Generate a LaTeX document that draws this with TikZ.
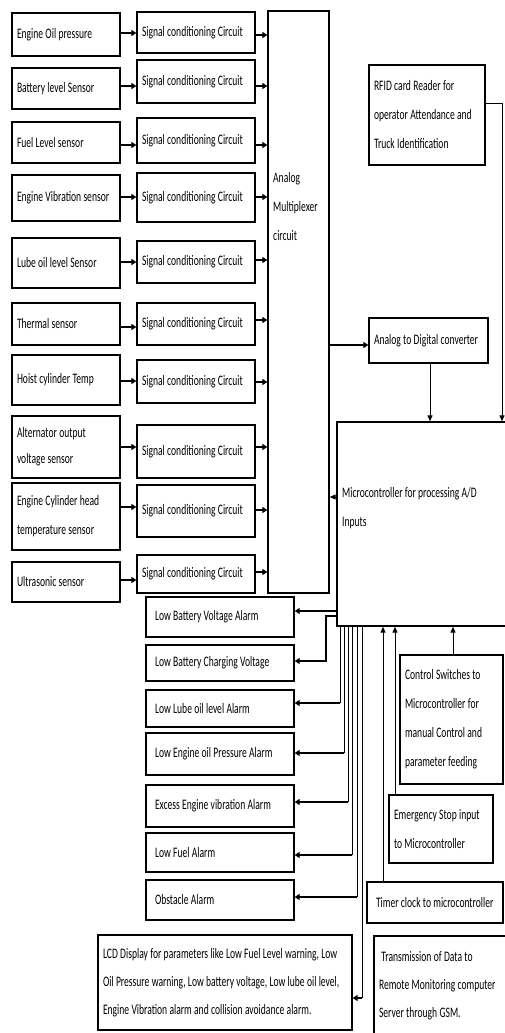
\documentclass[tikz,border=0pt]{standalone}
\usepackage{fontspec}
\setmainfont{Carlito}[FakeStretch=0.66]
\usetikzlibrary{arrows.meta}
\newcommand\bx[7][]{%
  \pgfmathsetmacro\bxw{#5-#3}\pgfmathsetmacro\bxh{#6-#4}\pgfmathsetmacro\bxt{#5-#3-10}%
  \node[boxst, minimum width=\bxw pt, minimum height=\bxh pt, text width=\bxt pt, #1] (#2) at ({(#3+#5)/2},{(#4+#6)/2}) {\spaceskip=0.16em\relax #7};}
\begin{document}
\begin{tikzpicture}[x=1pt,y=-1pt,
  boxst/.style={draw, line width=1.3pt, rectangle, inner xsep=5pt, inner ysep=2pt, align=left, font=\fontsize{14.5}{29}\selectfont},
  alm/.style={inner xsep=8pt, text width=130pt},
  lbl/.style={anchor=west, align=left, inner sep=0pt, font=\fontsize{14.5}{29}\selectfont},
  arr/.style={-{Triangle[length=5pt,width=6pt]}, line width=1.8pt},
  tarr/.style={-{Triangle[length=6pt,width=5pt]}, line width=1pt},
  wire/.style={line width=1pt}]
\useasboundingbox (0,0) rectangle (505,1033);
% sensors
\bx{s1}{12}{13}{120}{56}{Engine Oil pressure}
\bx{s2}{12}{68}{120}{109}{Battery level Sensor}
\bx{s3}{12}{122}{120}{163}{Fuel Level sensor}
\bx{s4}{12}{175}{120}{221}{Engine Vibration sensor}
\bx{s5}{12}{238}{120}{288}{Lube oil level Sensor}
\bx{s6}{12}{303}{120}{345}{Thermal sensor}
\bx{s7}{12}{355}{120}{405}{Hoist cylinder Temp}
\bx[font=\fontsize{14.5}{26}\selectfont]{s8}{12}{416}{120}{478}{Alternator output\\voltage sensor}
\bx{s9}{12}{483}{120}{550}{Engine Cylinder head\\temperature sensor}
\bx{s10}{12}{562}{120}{602}{Ultrasonic sensor}
% signal conditioning
\bx{c1}{137}{12}{255}{53}{Signal conditioning Circuit}
\bx{c2}{137}{60}{255}{103}{Signal conditioning Circuit}
\bx{c3}{137}{118}{255}{163}{Signal conditioning Circuit}
\bx{c4}{137}{173}{255}{222}{Signal conditioning Circuit}
\bx{c5}{137}{241}{255}{283}{Signal conditioning Circuit}
\bx{c6}{137}{303}{255}{345}{Signal conditioning Circuit}
\bx{c7}{137}{360}{255}{403}{Signal conditioning Circuit}
\bx{c8}{137}{425}{255}{478}{Signal conditioning Circuit}
\bx{c9}{137}{485}{255}{537}{Signal conditioning Circuit}
\bx{c10}{137}{555}{255}{593}{Signal conditioning Circuit}
% mux
\bx{mux}{268}{11}{329}{593}{}
\node[lbl] (muxl) at (273,207) {Analog\\Multiplexer\\circuit};
% right column
\bx{rfid}{369}{65}{485}{165}{RFID card Reader for\\operator Attendance and\\Truck Identification}
\bx{adc}{369}{318}{488}{363}{Analog to Digital converter}
\bx{mcu}{337}{422}{510}{626}{}
\node[lbl] (mcul) at (342,508) {Microcontroller for processing A/D\\Inputs};
% alarms
\bx[alm]{a1}{146}{597}{294}{637}{Low Battery Voltage Alarm}
\bx[alm]{a2}{146}{645}{294}{681}{Low Battery Charging Voltage}
\bx[alm]{a3}{146}{690}{294}{727}{Low Lube oil level Alarm}
\bx[alm]{a4}{146}{733}{294}{775}{Low Engine oil Pressure Alarm}
\bx[alm]{a5}{146}{785}{294}{827}{Excess Engine vibration Alarm}
\bx[alm]{a6}{146}{833}{294}{872}{Low Fuel Alarm}
\bx[alm]{a7}{146}{880}{294}{920}{Obstacle Alarm}
\bx[text width=250pt, inner xsep=2pt, font=\fontsize{14.5}{28}\selectfont]{lcd}{98}{935}{352}{1030}{\hspace*{3pt}LCD Display for parameters like Low Fuel Level warning, Low\\\hspace*{3pt}Oil Pressure warning, Low battery voltage, Low lube oil level,\\\hspace*{3pt}Engine Vibration alarm and collision avoidance alarm.}
% inputs
\bx{ctl}{400}{655}{503}{784}{Control Switches to\\Microcontroller for\\manual Control and\\parameter feeding}
\bx{emg}{389}{795}{493}{863}{Emergency Stop input\\to Microcontroller}
\bx[inner xsep=9pt, text width=118pt]{tmr}{367}{882}{503}{923}{Timer clock to microcontroller}
\bx[font=\fontsize{14.5}{28}\selectfont]{gsm}{374}{936}{512}{1035}{\ Transmission of Data to\\Remote Monitoring computer\\Server through GSM.}
% connectors
\foreach \i/\y in {1/33,2/86,3/145,4/197,5/262,6/327,7/381,8/447,9/507,10/580}
  \draw[arr] (s\i.east |- 0,\y) -- (c\i.west |- 0,\y);
\foreach \i/\y in {1/35,2/86,3/145,4/197,5/260,6/320,7/382,8/447,9/510,10/572}
  \draw[arr] (c\i.east |- 0,\y) -- (mux.west |- 0,\y);
\draw[arr] (mux.east |- 0,345) -- (adc.west |- 0,345);
\draw[tarr] (adc.south -| 430,0) -- (mcu.north -| 430,0);
\draw[tarr] (rfid.east |- 0,103) -| (mcu.north -| 502,0);
\draw[tarr] (mcu.west |- 0,497) -- (mux.east |- 0,497);
\draw[arr] (mcu.west |- 0,611) -- (a1.east |- 0,611);
\draw[arr] (mcu.west |- 0,616) -- ++(-10,0) |- (a2.east |- 0,661);
\foreach \i/\x/\y in {3/340/703,4/344/753,5/348/802,6/352/855,7/357/897}{
  \coordinate (k\i) at (\x,\y);
  \draw[wire] (mcu.south -| k\i) -- (k\i);
  \draw[arr] (k\i) -- (a\i.east |- k\i);
}
\coordinate (k8) at (362,998);
\draw[wire] (mcu.south -| k8) -- (k8);
\draw[arr] (k8) -- (lcd.east |- k8);
\draw[tarr] (tmr.north -| 383,0) -- (mcu.south -| 383,0);
\draw[tarr] (emg.north -| 395,0) -- (mcu.south -| 395,0);
\draw[tarr] (ctl.north -| 453,0) -- (mcu.south -| 453,0);
\end{tikzpicture}
\end{document}
